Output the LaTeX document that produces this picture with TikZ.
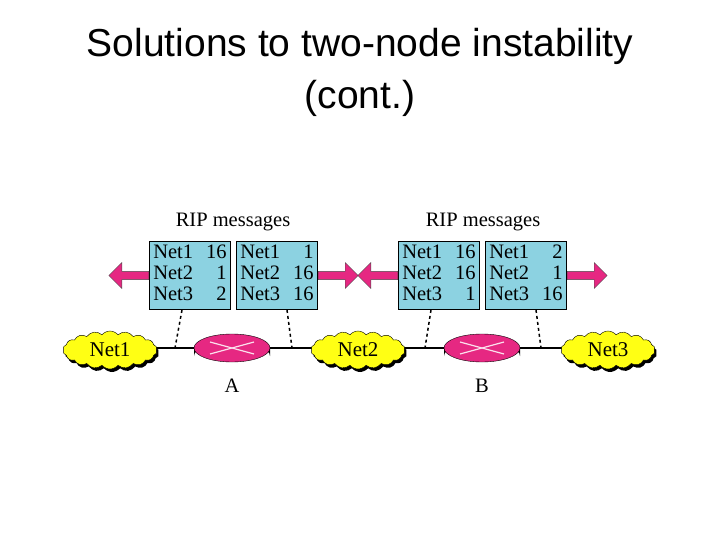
\documentclass[tikz,border=0pt]{standalone}
\usepackage{fontspec}
\setmainfont{Liberation Serif}
\newfontfamily\titlefont{Liberation Sans}
\usetikzlibrary{shapes.symbols,shapes.arrows,shapes.geometric,shadows}
\definecolor{boxc}{RGB}{140,210,225}
\definecolor{mag}{RGB}{230,40,130}
\definecolor{cloudy}{RGB}{255,255,20}
\begin{document}
\begin{tikzpicture}[x=1pt,y=-1pt,
 tbl/.style={draw=black,line width=1pt,fill=boxc,minimum width=81pt,minimum height=68pt,inner sep=1pt,font=\fontsize{20.5}{21}\selectfont,anchor=north west},
 net/.style={cloud,cloud puffs=18,cloud puff arc=100,aspect=3,draw=black,fill=cloudy,minimum width=94pt,minimum height=38pt,inner sep=0pt,font=\fontsize{21}{22}\selectfont,drop shadow={shadow xshift=2pt,shadow yshift=-3pt,fill=black,opacity=1}},
 fat/.style={single arrow,fill=mag,draw=black!70,minimum height=40pt,minimum width=26pt,single arrow head extend=7pt,inner sep=3pt},
 lbl/.style={font=\fontsize{20.5}{22}\selectfont}]
\useasboundingbox (0,0) rectangle (720,540);
\node[font=\titlefont\fontsize{39}{52}\selectfont,align=center] (title) at (360,72) {Solutions to two-node instability\\(cont.)};
% wire
\coordinate (wl) at (150,348); \coordinate (wr) at (600,348);
\draw[line width=1.5pt] (wl) -- (wr);
% tables
\node[tbl] (t1) at (149,241) {\begin{tabular}{@{}l@{\hspace{13pt}}r@{}}Net1&16\\Net2&1\\Net3&2\end{tabular}};
\node[tbl] (t2) at (236,241) {\begin{tabular}{@{}l@{\hspace{13pt}}r@{}}Net1&1\\Net2&16\\Net3&16\end{tabular}};
\node[tbl] (t3) at (398,241) {\begin{tabular}{@{}l@{\hspace{13pt}}r@{}}Net1&16\\Net2&16\\Net3&1\end{tabular}};
\node[tbl] (t4) at (485,241) {\begin{tabular}{@{}l@{\hspace{13pt}}r@{}}Net1&2\\Net2&1\\Net3&16\end{tabular}};
\node[lbl] (r1) at (233,222) {RIP messages};
\node[lbl] (r2) at (483,222) {RIP messages};
% arrows
\node[fat,shape border rotate=180,anchor=tail] (a1) at (t1.west) {};
\node[fat,anchor=tail] (a2) at (t2.east) {};
\node[fat,shape border rotate=180,anchor=tail] (a3) at (t3.west) {};
\node[fat,anchor=tail] (a4) at (t4.east) {};
% dashed
\coordinate (d1) at (175,348); \coordinate (d2) at (292,348);
\coordinate (d3) at (425,348); \coordinate (d4) at (541,348);
\draw[dashed,line width=1.5pt] ([xshift=-8pt]t1.south) -- (d1);
\draw[dashed,line width=1.5pt] ([xshift=10pt]t2.south) -- (d2);
\draw[dashed,line width=1.5pt] ([xshift=-8pt]t3.south) -- (d3);
\draw[dashed,line width=1.5pt] ([xshift=10pt]t4.south) -- (d4);
% clouds
\node[net] (n1) at (110,350) {Net1};
\node[net] (n2) at (358,350) {Net2};
\node[net] (n3) at (608,350) {Net3};
% routers
\foreach \r/\x/\t in {A/232/A,B/482/B}{
 \fill[black] (\x-38,348) -- (\x-38,356) arc[start angle=180,end angle=360,x radius=38,y radius=14] -- (\x+38,348) -- cycle;
 \node[ellipse,fill=mag,draw=black,minimum width=76pt,minimum height=28pt,inner sep=0pt] (\r) at (\x,348) {};
 \draw[white!85!mag,line width=1.2pt] (\x-22,342) -- (\x+22,354) (\x-22,354) -- (\x+22,342);
 \node[lbl] (\r l) at (\x,386) {\t};
}
\end{tikzpicture}
\end{document}
